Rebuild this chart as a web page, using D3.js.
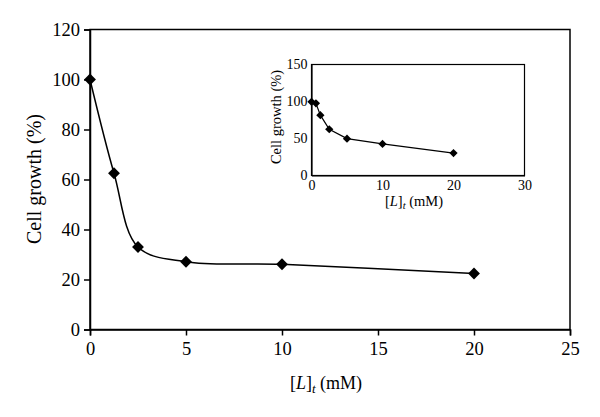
<!DOCTYPE html>
<html><head><meta charset="utf-8">
<script src="https://cdn.jsdelivr.net/npm/d3@7"></script>
<style>body{margin:0;background:#fff}svg{display:block}svg text{font-family:"Liberation Serif",serif;fill:#000}</style>
</head><body><svg id="c" width="600" height="417"></svg>
<script>
// Main chart data
const mainX = [0, 1.25, 2.5, 5, 10, 20];
const mainY = [100, 62.5, 33, 27.1, 26.1, 22.4];
const mainXTicks = [0, 5, 10, 15, 20, 25];
const mainYTicks = [0, 20, 40, 60, 80, 100, 120];
// Inset data
const insetX = [0, 0.625, 1.25, 2.5, 5, 10, 20];
const insetY = [99.6, 97.5, 81.5, 62.5, 49.8, 42.7, 30.3];
const insetXTicks = [0, 10, 20, 30];
const insetYTicks = [0, 50, 100, 150];

const svg = d3.select("#c");
const square = d3.symbol().type(d3.symbolSquare);

// Main
const x = d3.scaleLinear().domain([0, 25]).range([90, 570]);
const y = d3.scaleLinear().domain([0, 120]).range([329.5, 29.5]);

svg.append("rect").attr("x", 90).attr("y", 29.5).attr("width", 480).attr("height", 300)
  .attr("fill", "none").attr("stroke", "#000").attr("stroke-width", 1.5);

const gx = svg.append("g").attr("transform", "translate(0,329.5)")
  .call(d3.axisBottom(x).tickValues(mainXTicks).tickSize(6).tickPadding(6));
const gy = svg.append("g").attr("transform", "translate(90,0)")
  .call(d3.axisLeft(y).tickValues(mainYTicks).tickSize(6).tickPadding(4));
[gx, gy].forEach(g => {
  g.select(".domain").attr("stroke-width", 1.5);
  g.selectAll(".tick line").attr("stroke-width", 1.5);
  g.selectAll("text").attr("font-size", 18.5);
});

const mainPts = mainX.map((d, i) => [d, mainY[i]]);
svg.append("path").datum(mainPts)
  .attr("d", d3.line().x(d => x(d[0])).y(d => y(d[1])).curve(d3.curveCatmullRom.alpha(0.5)))
  .attr("fill", "none").attr("stroke", "#000").attr("stroke-width", 1.5);
svg.selectAll(".mk").data(mainPts).enter().append("path")
  .attr("transform", d => `translate(${x(d[0])},${y(d[1])}) rotate(45)`)
  .attr("d", square.size(70)()).attr("fill", "#000");

svg.append("text").attr("transform", "translate(41,179) rotate(-90)")
  .attr("text-anchor", "middle").attr("font-size", 20).text("Cell growth (%)");
const xt = svg.append("text").attr("x", 326).attr("y", 389).attr("text-anchor", "middle").attr("font-size", 18);
xt.append("tspan").text("[");
xt.append("tspan").attr("font-style", "italic").text("L");
xt.append("tspan").text("]");
xt.append("tspan").attr("font-style", "italic").attr("font-size", 13).attr("dy", 4).text("t");
xt.append("tspan").attr("dy", -4).text(" (mM)");

// Inset
const ix = d3.scaleLinear().domain([0, 30]).range([311.5, 524.5]);
const iy = d3.scaleLinear().domain([0, 150]).range([175.5, 64.5]);
svg.append("rect").attr("x", 311.5).attr("y", 64.5).attr("width", 213).attr("height", 111)
  .attr("fill", "#fff").attr("stroke", "#000").attr("stroke-width", 1.2);
const igx = svg.append("g").attr("transform", "translate(0,175.5)")
  .call(d3.axisBottom(ix).tickValues(insetXTicks).tickSize(0).tickPadding(5));
const igy = svg.append("g").attr("transform", "translate(311.5,0)")
  .call(d3.axisLeft(iy).tickValues(insetYTicks).tickSize(0).tickPadding(4));
[igx, igy].forEach(g => {
  g.select(".domain").attr("stroke-width", 1.2);
  g.selectAll("text").attr("font-size", 14);
});
const insetPts = insetX.map((d, i) => [d, insetY[i]]);
svg.append("path").datum(insetPts)
  .attr("d", d3.line().x(d => ix(d[0])).y(d => iy(d[1])))
  .attr("fill", "none").attr("stroke", "#000").attr("stroke-width", 1.2);
svg.selectAll(".imk").data(insetPts).enter().append("path")
  .attr("transform", d => `translate(${ix(d[0])},${iy(d[1])}) rotate(45)`)
  .attr("d", square.size(34)()).attr("fill", "#000");
svg.append("text").attr("transform", "translate(281,117) rotate(-90)")
  .attr("text-anchor", "middle").attr("font-size", 14.5).text("Cell growth (%)");
const ixt = svg.append("text").attr("x", 414).attr("y", 206).attr("text-anchor", "middle").attr("font-size", 14.5);
ixt.append("tspan").text("[");
ixt.append("tspan").attr("font-style", "italic").text("L");
ixt.append("tspan").text("]");
ixt.append("tspan").attr("font-style", "italic").attr("font-size", 10.5).attr("dy", 3).text("t");
ixt.append("tspan").attr("dy", -3).text(" (mM)");
</script></body></html>
